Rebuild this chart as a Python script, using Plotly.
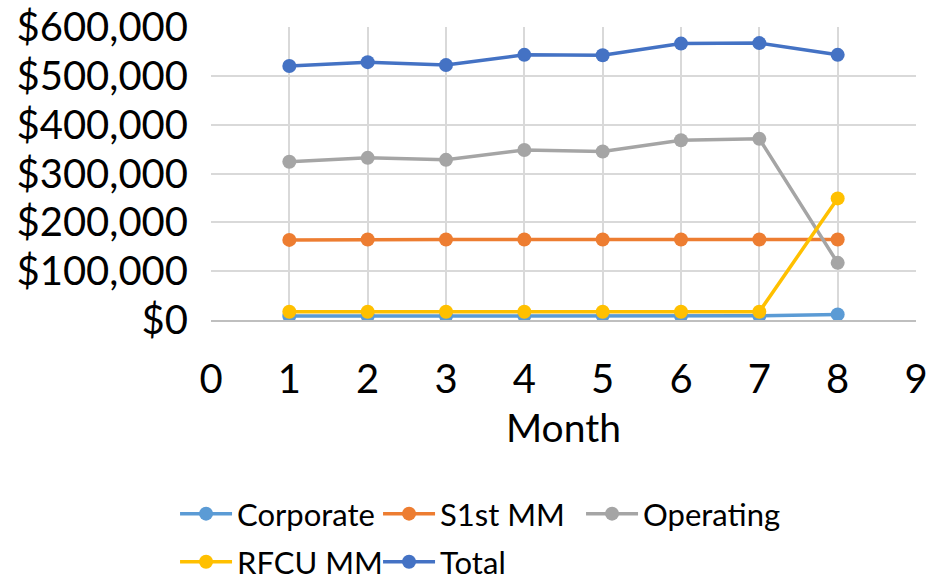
import plotly.graph_objects as go

months = [1, 2, 3, 4, 5, 6, 7, 8]
corporate = [8000, 8000, 8000, 8500, 9000, 8500, 8500, 11500]
s1st_mm = [164000, 165000, 165000, 165000, 165000, 165000, 165000, 165000]
operating = [324000, 332000, 328000, 348000, 345000, 368000, 371000, 117000]
rfcu_mm = [17000, 17000, 17000, 17000, 17000, 17000, 17000, 249000]
total = [520000, 528000, 522000, 543000, 542000, 566000, 567000, 543000]

series = [
    ("Corporate", corporate, "#5B9BD5", "legend"),
    ("S1st MM", s1st_mm, "#ED7D31", "legend"),
    ("Operating", operating, "#A5A5A5", "legend"),
    ("RFCU MM", rfcu_mm, "#FFC000", "legend2"),
    ("Total", total, "#4472C4", "legend2"),
]

x_ticks = list(range(0, 10))
y_ticks = [0, 100000, 200000, 300000, 400000, 500000, 600000]
y_labels = ["$0", "$100,000", "$200,000", "$300,000", "$400,000", "$500,000", "$600,000"]

fig = go.Figure()
for name, vals, col, lg in series:
    fig.add_trace(go.Scatter(
        x=months, y=vals, name=name, mode="lines+markers",
        line=dict(color=col, width=3.5),
        marker=dict(color=col, size=14),
        legend=lg,
    ))

font = "Lato, 'Open Sans', sans-serif"
legend_common = dict(
    orientation="h", x=-0.051, xanchor="left", yanchor="top",
    font=dict(size=31), itemwidth=52, entrywidth=136, bgcolor="rgba(0,0,0,0)",
)
fig.update_layout(
    width=930, height=582,
    paper_bgcolor="white", plot_bgcolor="white",
    margin=dict(l=211, r=14, t=27, b=262, autoexpand=False),
    font=dict(family=font, size=40, color="black"),
    showlegend=True,
    legend=dict(y=-0.57, **legend_common),
    legend2=dict(y=-0.734, **legend_common),
    xaxis=dict(
        range=[0, 9], tickvals=x_ticks, ticktext=[str(v) for v in x_ticks],
        showgrid=True, gridcolor="#D9D9D9", gridwidth=1.5,
        showline=True, linecolor="#BFBFBF", linewidth=2,
        zeroline=False, ticks="", ticklabelstandoff=23, automargin=False,
        title=dict(text="Month", font=dict(size=39), standoff=14),
    ),
    yaxis=dict(
        range=[0, 600000], tickvals=y_ticks, ticktext=y_labels,
        showgrid=True, gridcolor="#D9D9D9", gridwidth=1.5,
        zeroline=False, ticks="", ticklabelstandoff=22, automargin=False,
    ),
)

fig.write_html("out.html")
